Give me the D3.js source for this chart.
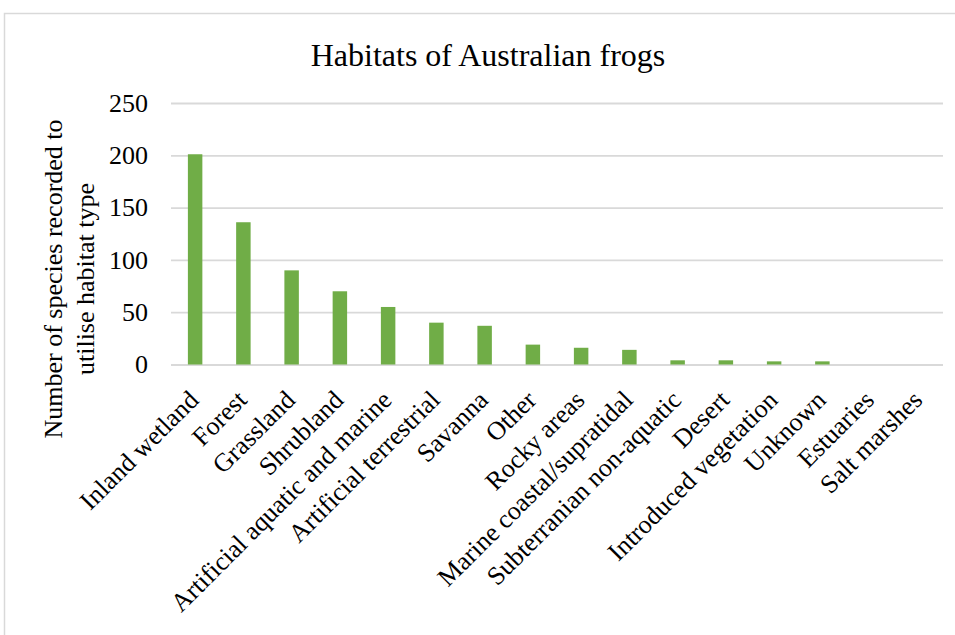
<!DOCTYPE html>
<html>
<head>
<meta charset="utf-8">
<script src="https://cdn.jsdelivr.net/npm/d3@7"></script>
<style>
  html, body { margin: 0; padding: 0; background: #ffffff; }
  svg { display: block; }
  text { font-family: "Liberation Serif", "Times New Roman", serif; fill: #000; }
</style>
</head>
<body>
<svg id="chart" width="955" height="635"></svg>
<script>
// Habitat types and number of frog species recorded in each
const habitats = [
  "Inland wetland", "Forest", "Grassland", "Shrubland",
  "Artificial aquatic and marine", "Artificial terrestrial", "Savanna", "Other",
  "Rocky areas", "Marine coastal/supratidal", "Subterranian non-aquatic", "Desert",
  "Introduced vegetation", "Unknown", "Estuaries", "Salt marshes"
];
const speciesCounts = [201, 136, 90, 70, 55, 40, 37, 19, 16, 14, 4, 4, 3, 3, 0, 0];
const yTicks = [0, 50, 100, 150, 200, 250];

const chartTitle = "Habitats of Australian frogs";
const yTitleLines = ["Number of species recorded to", "utilise habitat type"];

const svg = d3.select("#chart");

// chart area frame
svg.append("rect")
  .attr("x", 4.5).attr("y", 13.5)
  .attr("width", 980).attr("height", 660)
  .attr("fill", "#ffffff")
  .attr("stroke", "#d9d9d9")
  .attr("stroke-width", 1.5);

const plot = { left: 171, right: 943, top: 103, bottom: 364.5 };

const x = d3.scaleBand()
  .domain(habitats)
  .range([plot.left, plot.right])
  .paddingInner(0.7)
  .paddingOuter(0.35);

const y = d3.scaleLinear()
  .domain([0, 250])
  .range([plot.bottom, plot.top]);

// horizontal gridlines + value labels
const yAxis = d3.axisLeft(y)
  .tickValues(yTicks)
  .tickSize(-(plot.right - plot.left))
  .tickPadding(23)
  .tickFormat(d3.format("d"));

const gy = svg.append("g")
  .attr("transform", `translate(${plot.left},0)`)
  .call(yAxis);
gy.select(".domain").remove();
gy.selectAll(".tick line")
  .attr("stroke", "#d9d9d9")
  .attr("stroke-width", 1.8);
gy.selectAll(".tick text")
  .attr("font-size", 26)
  .attr("font-family", "Liberation Serif, serif")
  .attr("fill", "#000");

// bars
svg.append("g")
  .selectAll("rect")
  .data(speciesCounts)
  .join("rect")
  .attr("x", (d, i) => x(habitats[i]))
  .attr("width", x.bandwidth())
  .attr("y", d => y(d))
  .attr("height", d => y(0) - y(d))
  .attr("fill", "#70ad47");

// category labels, slanted
const gx = svg.append("g")
  .attr("transform", `translate(0,${plot.bottom})`)
  .call(d3.axisBottom(x).tickSize(0).tickPadding(0));
gx.select(".domain").remove();
gx.selectAll(".tick text")
  .attr("font-size", 26)
  .attr("font-family", "Liberation Serif, serif")
  .attr("fill", "#000")
  .attr("text-anchor", "end")
  .attr("dy", 0)
  .attr("transform", "translate(5,37) rotate(-45)");

// title
svg.append("text")
  .attr("x", 488)
  .attr("y", 66)
  .attr("text-anchor", "middle")
  .attr("font-size", 32)
  .text(chartTitle);

// y-axis title, two lines
const yTitle = svg.append("text")
  .attr("transform", "translate(62,279) rotate(-90)")
  .attr("text-anchor", "middle")
  .attr("font-size", 26);
yTitle.selectAll("tspan")
  .data(yTitleLines)
  .join("tspan")
  .attr("x", 0)
  .attr("dy", (d, i) => i === 0 ? 0 : 32)
  .text(d => d);
</script>
</body>
</html>
